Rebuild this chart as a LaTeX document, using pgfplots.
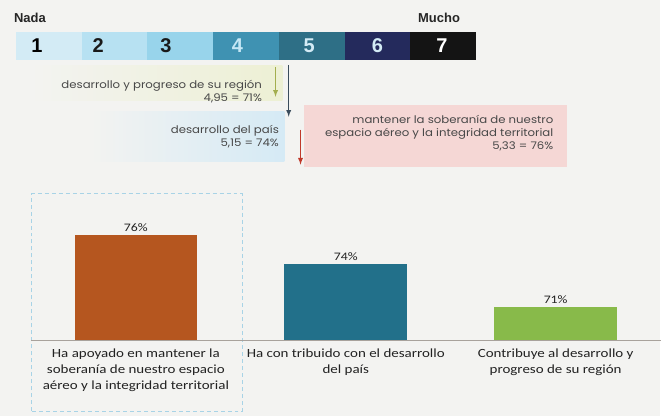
\documentclass[border=0pt]{standalone}
\usepackage{fontspec}
\setmainfont{Carlito}[FakeStretch=1.2]
\newfontfamily\annfont{Poppins}[FakeStretch=1.12]
\newfontfamily\hdfont{Liberation Sans}
\usepackage{pgfplots}
\pgfplotsset{compat=1.18}
\definecolor{bg}{HTML}{F3F3F1}
\definecolor{c1}{HTML}{D3EBF5}
\definecolor{c2}{HTML}{B7E1F2}
\definecolor{c3}{HTML}{98D4EB}
\definecolor{c4}{HTML}{3F92B2}
\definecolor{c5}{HTML}{2E6F86}
\definecolor{c6}{HTML}{242A5C}
\definecolor{c7}{HTML}{141414}
\definecolor{bOrange}{HTML}{B5561F}
\definecolor{bTeal}{HTML}{22708A}
\definecolor{bGreen}{HTML}{88BA4A}
\definecolor{boxG}{HTML}{EDF0D4}
\definecolor{boxB}{HTML}{D5EAF5}
\definecolor{boxP}{HTML}{F5D7D5}
\definecolor{dashB}{HTML}{A8D3E6}
\definecolor{arrG}{HTML}{A3AE4E}
\definecolor{arrD}{HTML}{3A4C5C}
\definecolor{arrR}{HTML}{C0392B}
\definecolor{anntext}{HTML}{484848}
\definecolor{axgray}{HTML}{A8A29C}
\definecolor{txt}{HTML}{222222}
\begin{document}
\begin{tikzpicture}[x=1pt,y=1pt]
\fill[bg] (0,0) rectangle (661,417);
% annotation backgrounds
\shade[left color=bg, right color=boxG] (30,316) rectangle (283,351);
\shade[left color=bg, right color=boxB] (90,255) rectangle (285,305);
\fill[boxP] (305,250) rectangle (568,312);
\draw[dashB, dash pattern=on 4pt off 3pt, line width=1pt] (32,5) rectangle (243,223);

% colour scale (y = 180 - pixel row from the top)
\begin{axis}[at={(16pt,237pt)}, anchor=south west, scale only axis,
  width=461pt, height=180pt, xmin=1, xmax=8, ymin=0, ymax=180,
  axis lines=none, clip=false,
  xbar stacked, bar width=28pt]
\addplot[draw=none, fill=none] coordinates {(1,134)};
\addplot[draw=none, fill=c1] coordinates {(1,134)};
\addplot[draw=none, fill=c2] coordinates {(1,134)};
\addplot[draw=none, fill=c3] coordinates {(1,134)};
\addplot[draw=none, fill=c4] coordinates {(1,134)};
\addplot[draw=none, fill=c5] coordinates {(1,134)};
\addplot[draw=none, fill=c6] coordinates {(1,134)};
\addplot[draw=none, fill=c7] coordinates {(1,134)};
\end{axis}

% arrows and digits
\begin{axis}[at={(16pt,237pt)}, anchor=south west, scale only axis,
  width=461pt, height=180pt, xmin=1, xmax=8, ymin=0, ymax=180,
  axis lines=none, clip=false]
\addplot[-latex, color=arrG, line width=1.3pt] coordinates {(4.95,113) (4.95,83)};
\addplot[-latex, color=arrD, line width=1.3pt] coordinates {(5.15,115) (5.15,63)};
\addplot[-latex, color=arrR, line width=1.3pt] coordinates {(5.33,50) (5.33,15)};
\node[font=\hdfont\bfseries\fontsize{20}{20}\selectfont, text=black] at (axis cs:1.32,134) {1};
\node[font=\hdfont\bfseries\fontsize{20}{20}\selectfont, text=black!90] at (axis cs:2.25,134) {2};
\node[font=\hdfont\bfseries\fontsize{20}{20}\selectfont, text=black!90] at (axis cs:3.28,134) {3};
\node[font=\hdfont\bfseries\fontsize{20}{20}\selectfont, text=c2!80] at (axis cs:4.37,134) {4};
\node[font=\hdfont\bfseries\fontsize{20}{20}\selectfont, text=c1] at (axis cs:5.46,134) {5};
\node[font=\hdfont\bfseries\fontsize{20}{20}\selectfont, text=c1] at (axis cs:6.5,134) {6};
\node[font=\hdfont\bfseries\fontsize{20}{20}\selectfont, text=white] at (axis cs:7.48,134) {7};
\end{axis}

\node[font=\hdfont\bfseries\fontsize{13}{13}\selectfont, text=black!85] at (30,399) {Nada};
\node[font=\hdfont\bfseries\fontsize{13}{13}\selectfont, text=black!85] at (440,399) {Mucho};

\node[anchor=east, align=right, font=\annfont\fontsize{10.5}{13}\selectfont, text=anntext] at (266,325)
  {desarrollo y progreso de su región\\4,95 = 71\%};
\node[anchor=east, align=right, font=\annfont\fontsize{10.5}{13}\selectfont, text=anntext] at (283,280)
  {desarrollo del país\\5,15 = 74\%};
\node[anchor=east, align=right, font=\annfont\fontsize{10.5}{13}\selectfont, text=anntext] at (558,284)
  {mantener la soberanía de nuestro\\espacio aéreo y la integridad territorial\\5,33 = 76\%};

% bar chart
\begin{axis}[at={(31pt,76pt)}, anchor=south west, scale only axis,
  width=631pt, height=148.8pt, xmin=-0.5, xmax=2.5, ymin=68.7, ymax=79,
  ybar, bar width=123pt,
  axis x line*=bottom, axis y line=none,
  x axis line style={draw=axgray, line width=0.8pt, -},
  xtick={0,1,2}, xtick style={draw=none},
  xticklabels={{Ha apoyado en mantener la\\soberanía de nuestro espacio\\aéreo y la integridad territorial},
               {Ha con tribuido con el desarrollo\\del país},
               {Contribuye al desarrollo y\\progreso de su región}},
  xticklabel style={align=center, font=\fontsize{12.5}{16}\selectfont, text=txt, yshift=-1pt},
  /pgf/number format/assume math mode=true,
  nodes near coords={\pgfmathprintnumber{\pgfplotspointmeta}\%},
  every node near coord/.append style={font=\fontsize{11.5}{12}\selectfont, text=txt}]
\addplot[fill=bOrange, draw=none, bar shift=0pt] coordinates {(0,76)};
\addplot[fill=bTeal, draw=none, bar shift=0pt] coordinates {(1,74)};
\addplot[fill=bGreen, draw=none, bar shift=0pt] coordinates {(2,71)};
\end{axis}
\end{tikzpicture}
\end{document}
